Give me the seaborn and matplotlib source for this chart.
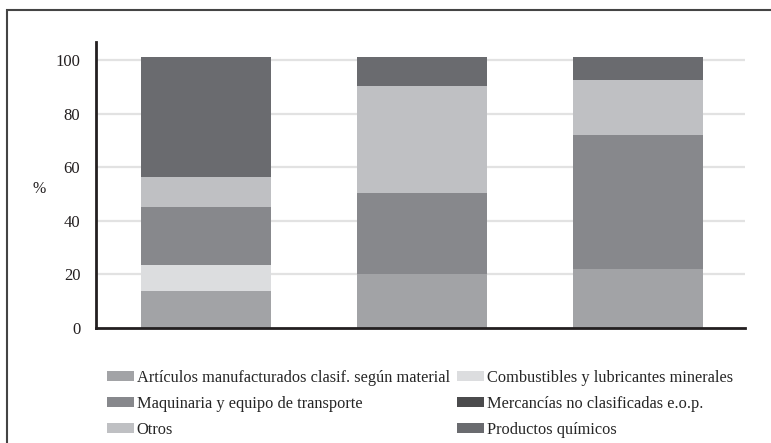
import numpy as np
import pandas as pd
import seaborn as sns
import matplotlib.pyplot as plt
from matplotlib.patches import Patch, Rectangle

# three bars (no labels shown in the original chart)
bars = ["1", "2", "3"]

# stacked shares in %, bottom to top
articulos = [13.8, 20.1, 22.0]
combustibles = [9.7, 0.0, 0.0]
maquinaria = [21.6, 30.3, 50.0]
mercancias = [0.0, 0.0, 0.0]
otros = [11.2, 39.9, 20.5]
quimicos = [44.9, 10.9, 8.7]

series_names = [
    "Artículos manufacturados clasif. según material",
    "Combustibles y lubricantes minerales",
    "Maquinaria y equipo de transporte",
    "Mercancías no clasificadas e.o.p.",
    "Otros",
    "Productos químicos",
]
series_values = [articulos, combustibles, maquinaria, mercancias, otros, quimicos]
series_colors = ["#a2a3a6", "#dcdddf", "#87888c", "#4b4b4d", "#bfc0c3", "#6a6b6f"]

sns.set_style("white")
plt.rcParams["font.family"] = ["Liberation Serif", "DejaVu Serif"]
dark = "#231f20"

fig = plt.figure(figsize=(7.71, 4.43), dpi=100)
ax = fig.add_axes([0.124, 0.2603, 0.842, 0.6455])

# stack the bars one series at a time
bottom = np.zeros(len(bars))
for name, vals, col in zip(series_names, series_values, series_colors):
    df = pd.DataFrame({"bar": bars, "value": vals})
    sns.barplot(data=df, x="bar", y="value", color=col, width=0.6,
                bottom=bottom, saturation=1, linewidth=0, ax=ax)
    bottom = bottom + np.array(vals)

ax.set_xlim(-0.51, 2.495)
ax.set_ylim(0, 107)
ax.set_yticks([0, 20, 40, 60, 80, 100])
ax.set_xticks([])
ax.set_xlabel("")
ax.set_ylabel("%", rotation=0, fontsize=11.5, color=dark, va="center")
ax.yaxis.set_label_coords(-0.087, 0.485)

# light horizontal grid behind the bars
for yv in [20, 40, 60, 80, 100]:
    ax.axhline(yv, color="#e2e2e2", linewidth=1.6, zorder=0)

for side in ["top", "right"]:
    ax.spines[side].set_visible(False)
for side in ["left", "bottom"]:
    ax.spines[side].set_color(dark)
    ax.spines[side].set_linewidth(2)
ax.tick_params(axis="y", direction="out", length=8, width=1.8, color=dark,
               labelsize=12, labelcolor=dark, pad=3)

# legend, two columns filled column-wise
order = [0, 2, 4, 1, 3, 5]
handles = [Patch(facecolor=series_colors[i], edgecolor="none") for i in order]
labels = [series_names[i] for i in order]
fig.legend(handles, labels, ncol=2, loc="upper left",
           bbox_to_anchor=(0.1384, 0.165), frameon=False, fontsize=11.8,
           handlelength=1.65, handleheight=0.6, handletextpad=0.18,
           columnspacing=0.45, labelspacing=0.6, borderpad=0, borderaxespad=0)

# outer frame (cut at right and bottom in the original)
fig.add_artist(Rectangle((7 / 771, -0.1), 1.2, 1.1 - 10 / 443,
                         transform=fig.transFigure, fill=False,
                         edgecolor="#444444", linewidth=1.5))

fig.savefig("out.png", dpi=100)
